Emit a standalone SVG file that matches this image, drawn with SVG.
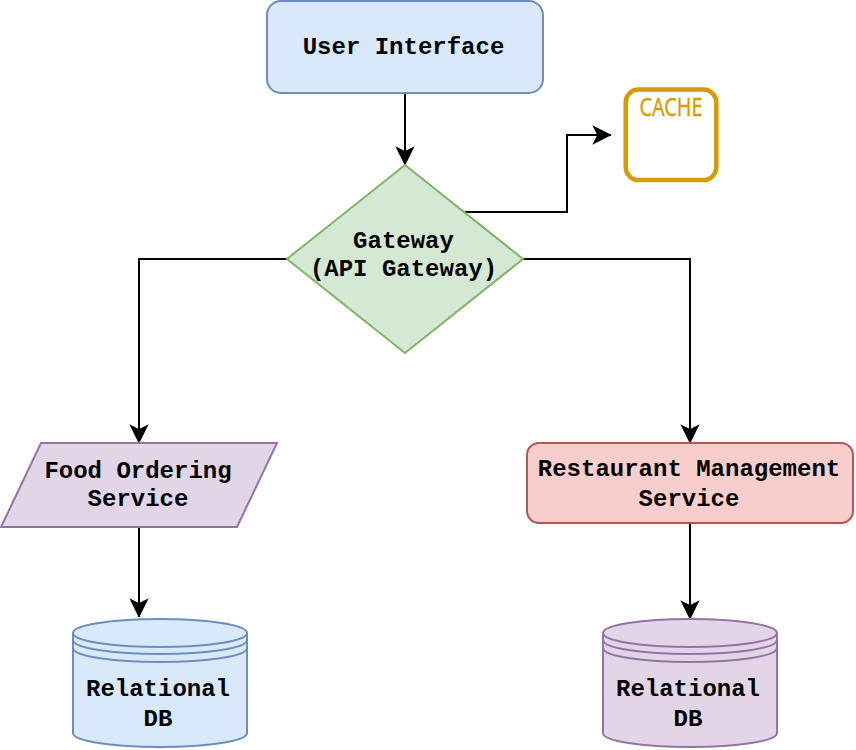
<svg xmlns="http://www.w3.org/2000/svg" width="856" height="750" viewBox="0 0 856 750">
<defs>
<style>
.t{font-family:"Liberation Mono","Courier New",monospace;font-weight:bold;font-size:24px;fill:#000;text-anchor:middle}
.s{stroke-width:2}
.c{fill:none;stroke:#000;stroke-width:2;marker-end:url(#a)}
.blue{fill:#dae8fc;stroke:#6c8ebf}
.green{fill:#d5e8d4;stroke:#82b366}
.purple{fill:#e1d5e7;stroke:#9673a6}
.red{fill:#f8cecc;stroke:#b85450}
.l{fill:none;stroke-width:2}
</style>
<marker id="a" markerUnits="userSpaceOnUse" markerWidth="22" markerHeight="22" refX="21" refY="10" orient="auto" viewBox="0 0 22 20"><path d="M4 2L20 10L4 18L8 10Z" fill="#000" stroke="#000" stroke-width="1.500"/></marker>
</defs>
<rect width="856" height="750" fill="#fff"/>
<g id="connectors">
<path class="c" d="M405 93V165"/>
<path class="c" d="M465 212H567V135H611"/>
<path class="c" d="M287 259H139V443"/>
<path class="c" d="M523 259H690V443"/>
<path class="c" d="M139 527V617"/>
<path class="c" d="M690 523V619"/>
</g>
<g id="user-interface">
<rect class="blue s" x="267" y="1" width="276" height="92" rx="14"/>
<text class="t" x="403.500" y="54">User Interface</text>
</g>
<g id="cache">
<rect x="625.700" y="89.500" width="90.600" height="90.600" rx="13" fill="#fff" stroke="#d79b00" stroke-width="4.500"/>
<text x="671" y="116" font-family="Noto Sans, sans-serif" font-size="25" fill="#d79b00" stroke="#d79b00" stroke-width="0.300" text-anchor="middle" textLength="63" lengthAdjust="spacingAndGlyphs">CACHE</text>
</g>
<g id="gateway">
<path class="green s" d="M405 165L523 259L405 353L287 259Z"/>
<text class="t" x="403.500" y="248">Gateway</text>
<text class="t" x="403.500" y="276">(API Gateway)</text>
</g>
<g id="food-ordering">
<path class="purple s" d="M41 443H277L237 527H1Z"/>
<text class="t" x="138" y="478">Food Ordering</text>
<text class="t" x="138" y="506">Service</text>
</g>
<g id="restaurant-management">
<rect class="red s" x="527" y="443" width="326" height="80" rx="12"/>
<text class="t" x="689" y="476">Restaurant Management</text>
<text class="t" x="689" y="506">Service</text>
</g>
<g id="db-left">
<path class="blue s" d="M73 633C73 625 112 619 160 619C208 619 247 625 247 633V733C247 741 208 747 160 747C112 747 73 741 73 733Z"/>
<path class="l" stroke="#6c8ebf" d="M73 633C73 641 112 647 160 647C208 647 247 641 247 633M73 640C73 648 112 654 160 654C208 654 247 648 247 640M73 648C73 656 112 662 160 662C208 662 247 656 247 648"/>
<text class="t" x="158" y="696">Relational</text>
<text class="t" x="158" y="726">DB</text>
</g>
<g id="db-right">
<path class="purple s" d="M603 633C603 625 642 619 690 619C738 619 777 625 777 633V733C777 741 738 747 690 747C642 747 603 741 603 733Z"/>
<path class="l" stroke="#9673a6" d="M603 633C603 641 642 647 690 647C738 647 777 641 777 633M603 640C603 648 642 654 690 654C738 654 777 648 777 640M603 648C603 656 642 662 690 662C738 662 777 656 777 648"/>
<text class="t" x="688" y="696">Relational</text>
<text class="t" x="688" y="726">DB</text>
</g>
</svg>
